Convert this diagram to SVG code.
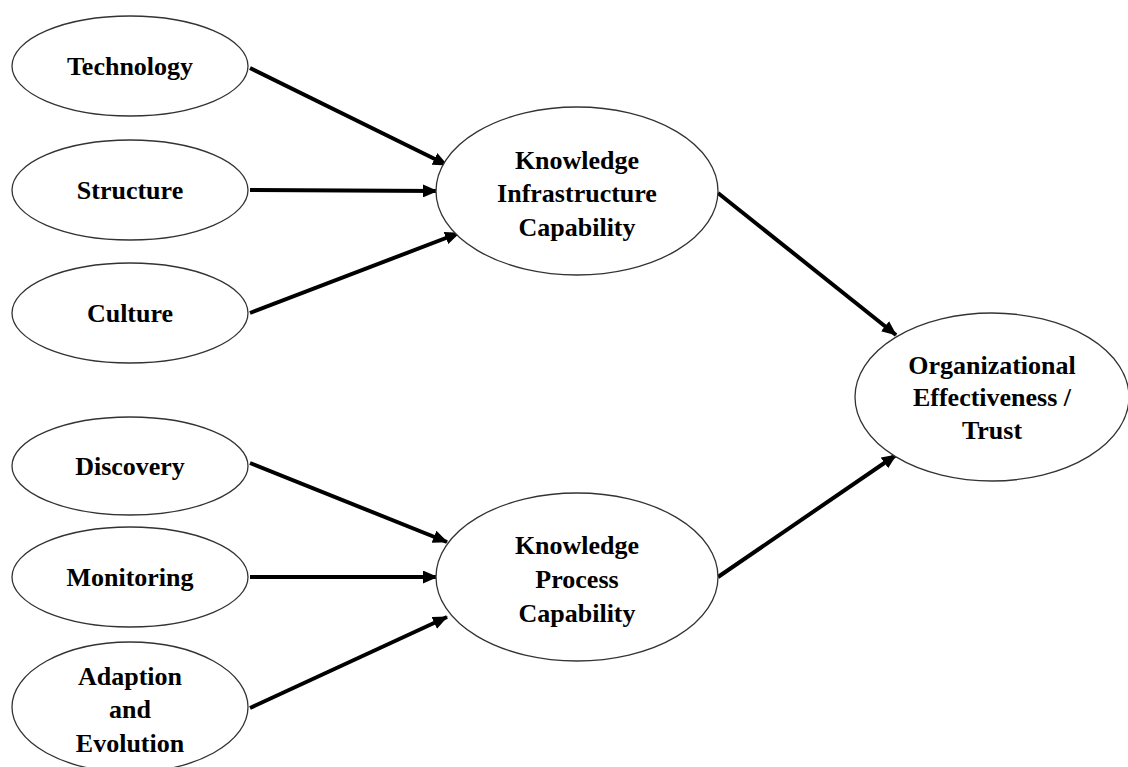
<svg xmlns="http://www.w3.org/2000/svg" width="1128" height="767" viewBox="0 0 1128 767">
<style>
.node ellipse{fill:#fff;stroke:#333;stroke-width:1.3}
.node text{font-family:"Liberation Serif","Times New Roman",serif;font-weight:bold;font-size:26px;fill:#000;text-anchor:middle}
.edge{stroke:#000;stroke-width:4;fill:none;marker-end:url(#ah)}
</style>
<defs>
<marker id="ah" markerUnits="userSpaceOnUse" markerWidth="15" markerHeight="13" refX="14" refY="6.5" orient="auto" viewBox="0 0 15 13">
<path d="M0,0 L15,6.5 L0,13 z" fill="#000"/>
</marker>
</defs>
<rect width="1128" height="767" fill="#fff"/>
<g id="connectors">
<line class="edge" x1="250" y1="68" x2="447" y2="165"/>
<line class="edge" x1="250" y1="190" x2="437" y2="191"/>
<line class="edge" x1="250" y1="313" x2="459" y2="233"/>
<line class="edge" x1="718" y1="193" x2="896" y2="335"/>
<line class="edge" x1="250" y1="463" x2="447" y2="542"/>
<line class="edge" x1="250" y1="577" x2="437" y2="577"/>
<line class="edge" x1="250" y1="708" x2="447" y2="617"/>
<line class="edge" x1="718" y1="577" x2="896" y2="455"/>
</g>
<g id="technology" class="node"><ellipse cx="130" cy="66" rx="118" ry="50"/><text x="130" y="75">Technology</text></g>
<g id="structure" class="node"><ellipse cx="130" cy="190" rx="118" ry="50"/><text x="130" y="199">Structure</text></g>
<g id="culture" class="node"><ellipse cx="130" cy="313" rx="118" ry="50"/><text x="130" y="322">Culture</text></g>
<g id="discovery" class="node"><ellipse cx="130" cy="466" rx="118" ry="49"/><text x="130" y="475">Discovery</text></g>
<g id="monitoring" class="node"><ellipse cx="130" cy="577" rx="118" ry="50"/><text x="130" y="586">Monitoring</text></g>
<g id="adaption" class="node"><ellipse cx="130" cy="707" rx="118" ry="65"/><text x="130" y="685">Adaption</text><text x="130" y="718">and</text><text x="130" y="752">Evolution</text></g>
<g id="kic" class="node"><ellipse cx="577" cy="191" rx="141" ry="84"/><text x="577" y="169">Knowledge</text><text x="577" y="202">Infrastructure</text><text x="577" y="236">Capability</text></g>
<g id="kpc" class="node"><ellipse cx="577" cy="577" rx="141" ry="84"/><text x="577" y="554">Knowledge</text><text x="577" y="588">Process</text><text x="577" y="622">Capability</text></g>
<g id="org" class="node"><ellipse cx="992" cy="397" rx="137" ry="84"/><text x="992" y="374">Organizational</text><text x="992" y="406">Effectiveness /</text><text x="992" y="439">Trust</text></g>
</svg>
